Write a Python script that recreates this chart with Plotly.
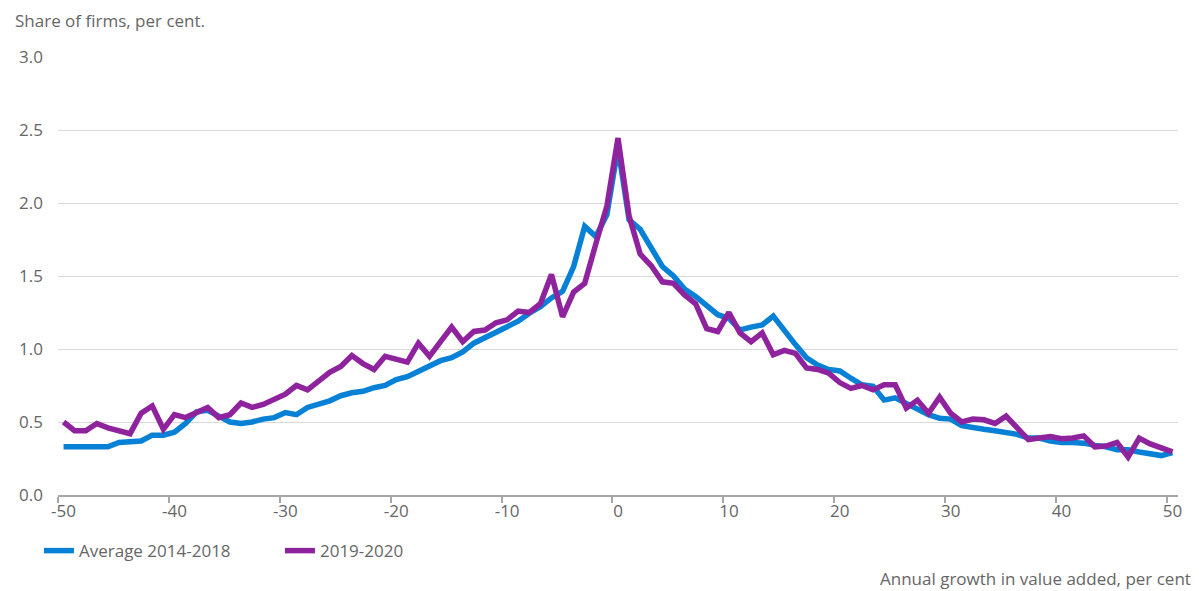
import plotly.graph_objs as go

# growth bins, per cent
growth = list(range(-50, 51))

avg_2014_2018 = [
    0.33, 0.33, 0.335, 0.335, 0.33, 0.36, 0.365, 0.37, 0.41, 0.41,
    0.43, 0.49, 0.57, 0.58, 0.54, 0.50, 0.49, 0.50, 0.52, 0.53,
    0.565, 0.55, 0.60, 0.625, 0.645, 0.68, 0.70, 0.71, 0.735, 0.75,
    0.79, 0.81, 0.85, 0.89, 0.92, 0.94, 0.98, 1.04, 1.075, 1.12,
    1.15, 1.19, 1.245, 1.29, 1.35, 1.395, 1.565, 1.84, 1.77, 1.92,
    2.38,
    1.885, 1.82, 1.69, 1.565, 1.50, 1.41, 1.36, 1.30, 1.235, 1.21,
    1.13, 1.15, 1.165, 1.225, 1.12, 1.03, 0.94, 0.89, 0.86, 0.85,
    0.80, 0.755, 0.745, 0.65, 0.665, 0.625, 0.59, 0.55, 0.525, 0.52,
    0.475, 0.46, 0.45, 0.44, 0.43, 0.415, 0.39, 0.39, 0.37, 0.36,
    0.36, 0.355, 0.34, 0.33, 0.31, 0.31, 0.295, 0.285, 0.27, 0.29,
]

y_2019_2020 = [
    0.50, 0.44, 0.44, 0.49, 0.46, 0.44, 0.42, 0.56, 0.61, 0.45,
    0.55, 0.53, 0.57, 0.60, 0.53, 0.55, 0.63, 0.60, 0.62, 0.66,
    0.69, 0.75, 0.72, 0.78, 0.84, 0.88, 0.955, 0.90, 0.86, 0.95,
    0.93, 0.91, 1.04, 0.95, 1.05, 1.15, 1.05, 1.12, 1.13, 1.18,
    1.20, 1.26, 1.25, 1.31, 1.51, 1.22, 1.39, 1.45, 1.72, 1.98,
    2.445,
    1.91, 1.65, 1.57, 1.46, 1.45, 1.37, 1.31, 1.14, 1.12, 1.25,
    1.11, 1.05, 1.11, 0.96, 0.99, 0.97, 0.87, 0.86, 0.835, 0.77,
    0.73, 0.75, 0.72, 0.755, 0.755, 0.595, 0.65, 0.56, 0.67, 0.56,
    0.50, 0.52, 0.515, 0.49, 0.54, 0.46, 0.38, 0.39, 0.40, 0.385,
    0.39, 0.405, 0.33, 0.335, 0.36, 0.26, 0.39, 0.35, 0.32, 0.295,
]

x_labels = list(range(-50, 51, 10))
# tick marks sit on the category boundaries, half a step left of the labels
x_marks = [v - 0.5 for v in x_labels]

BLUE = '#0681d6'
PURPLE = '#8f239e'
TEXT = '#666666'
FONT = '"Open Sans", sans-serif'

fig = go.Figure()
fig.add_trace(go.Scatter(x=growth, y=avg_2014_2018, name='Average 2014-2018', mode='lines',
                         line={'color': BLUE, 'width': 5.5}))
fig.add_trace(go.Scatter(x=growth, y=y_2019_2020, name='2019-2020', mode='lines',
                         line={'color': PURPLE, 'width': 5.5}))

# page body has an 8px margin, so the figure is sized to the remaining window
fig.update_layout(
    width=1191, height=583,
    margin={'l': 50, 'r': 21, 't': 49, 'b': 96},
    paper_bgcolor='white', plot_bgcolor='white',
    font={'family': FONT, 'size': 17, 'color': TEXT},
    legend={'orientation': 'h', 'x': -0.017, 'xanchor': 'left', 'y': -0.128, 'yanchor': 'middle',
            'font': {'size': 17, 'color': TEXT}, 'entrywidth': 196, 'entrywidthmode': 'pixels',
            'tracegroupgap': 0},
    showlegend=True,
)

fig.update_xaxes(
    range=[-50.5, 50.5],
    tickvals=x_labels, ticktext=[str(v) for v in x_labels],
    ticks='', showgrid=False, zeroline=False,
    showline=True, linecolor='#a6a6a6', linewidth=1.5,
    tickfont={'size': 17, 'color': TEXT},
    minor={'tickvals': x_marks, 'ticks': 'outside', 'ticklen': 6, 'tickcolor': '#a6a6a6',
           'tickwidth': 1.5, 'showgrid': False},
)
fig.update_yaxes(
    range=[0, 3.0], dtick=0.5, tick0=0, tickformat='.1f',
    showgrid=True, gridcolor='#d9d9d9', gridwidth=1.2,
    zeroline=False, showline=False, ticks='',
    ticklabelstandoff=14,
    tickfont={'size': 17, 'color': TEXT},
)

fig.add_annotation(text='Share of firms, per cent.', xref='paper', yref='paper',
                   x=-0.0402, y=1.115, xanchor='left', yanchor='top', showarrow=False,
                   font={'size': 17, 'color': TEXT})
fig.add_annotation(text='Annual growth in value added, per cent', xref='paper', yref='paper',
                   x=1.0134, y=-0.19, xanchor='right', yanchor='middle', showarrow=False,
                   font={'size': 17, 'color': TEXT})

fig.write_html('out.html')
